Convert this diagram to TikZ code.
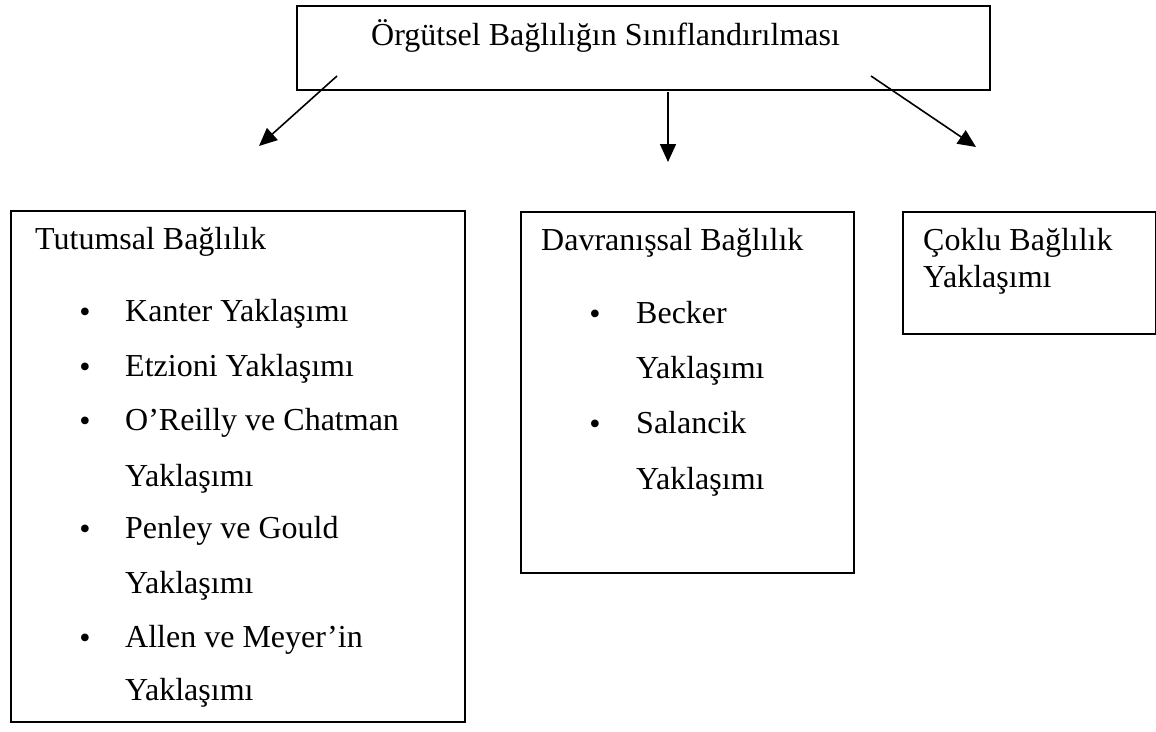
\documentclass[tikz,border=0pt]{standalone}
\usepackage{fontspec}
\setmainfont{Liberation Serif}
\usetikzlibrary{arrows.meta}
\begin{document}
\begin{tikzpicture}[x=1pt,y=-1pt,
  box/.style={draw, line width=1.7pt, rectangle, inner sep=0pt, anchor=north west},
  lbl/.style={inner sep=0pt, anchor=base west, font=\fontsize{32}{36}\selectfont},
  bul/.style={inner sep=0pt, anchor=center, font=\fontsize{32}{36}\selectfont},
  arr/.style={line width=1.6pt, -{Triangle[length=18pt,width=16pt]}}]
\useasboundingbox[fill=white] (0,0) rectangle (1156,731);
% boxes
\node[box, line width=2.3pt, minimum width=693pt, minimum height=84pt] (top) at (296,5) {};
\node[box, minimum width=454pt, minimum height=511pt] (left) at (10,210) {};
\node[box, minimum width=333pt, minimum height=361pt] (mid) at (520,211) {};
\node[box, minimum width=253pt, minimum height=122pt] (right) at (902,211) {};
% title
\node[lbl] (title) at (371,45) {Örgütsel Bağlılığın Sınıflandırılması};
% left box
\node[lbl] (tut) at (35,249) {Tutumsal Bağlılık};
\node[bul] (b1) at (85,315) {•};
\node[lbl] (l1) at (125,321) {Kanter Yaklaşımı};
\node[bul] (b2) at (85,370) {•};
\node[lbl] (l2) at (125,376) {Etzioni Yaklaşımı};
\node[bul] (b3) at (85,424) {•};
\node[lbl] (l3) at (125,430) {O’Reilly ve Chatman};
\node[lbl] (l3b) at (125,486) {Yaklaşımı};
\node[bul] (b4) at (85,532) {•};
\node[lbl] (l4) at (125,538) {Penley ve Gould};
\node[lbl] (l4b) at (125,593) {Yaklaşımı};
\node[bul] (b5) at (85,641) {•};
\node[lbl] (l5) at (125,647) {Allen ve Meyer’in};
\node[lbl] (l5b) at (125,700) {Yaklaşımı};
% middle box
\node[lbl] (dav) at (541,250) {Davranışsal Bağlılık};
\node[bul] (m1b) at (595,317) {•};
\node[lbl] (m1) at (636,323) {Becker};
\node[lbl] (m1y) at (636,378) {Yaklaşımı};
\node[bul] (m2b) at (595,427) {•};
\node[lbl] (m2) at (636,433) {Salancik};
\node[lbl] (m2y) at (636,489) {Yaklaşımı};
% right box
\node[lbl] (cok) at (923,250) {Çoklu Bağlılık};
\node[lbl] (coky) at (923,287) {Yaklaşımı};
% arrows
\coordinate (a1s) at (337,76);
\coordinate (a1e) at (259,146);
\coordinate (a2s) at (668,92);
\coordinate (a2e) at (668,162);
\coordinate (a3s) at (871,76);
\coordinate (a3e) at (976,147);
\draw[arr] (a1s) -- (a1e);
\draw[arr] (a2s) -- (a2e);
\draw[arr] (a3s) -- (a3e);
\end{tikzpicture}
\end{document}
